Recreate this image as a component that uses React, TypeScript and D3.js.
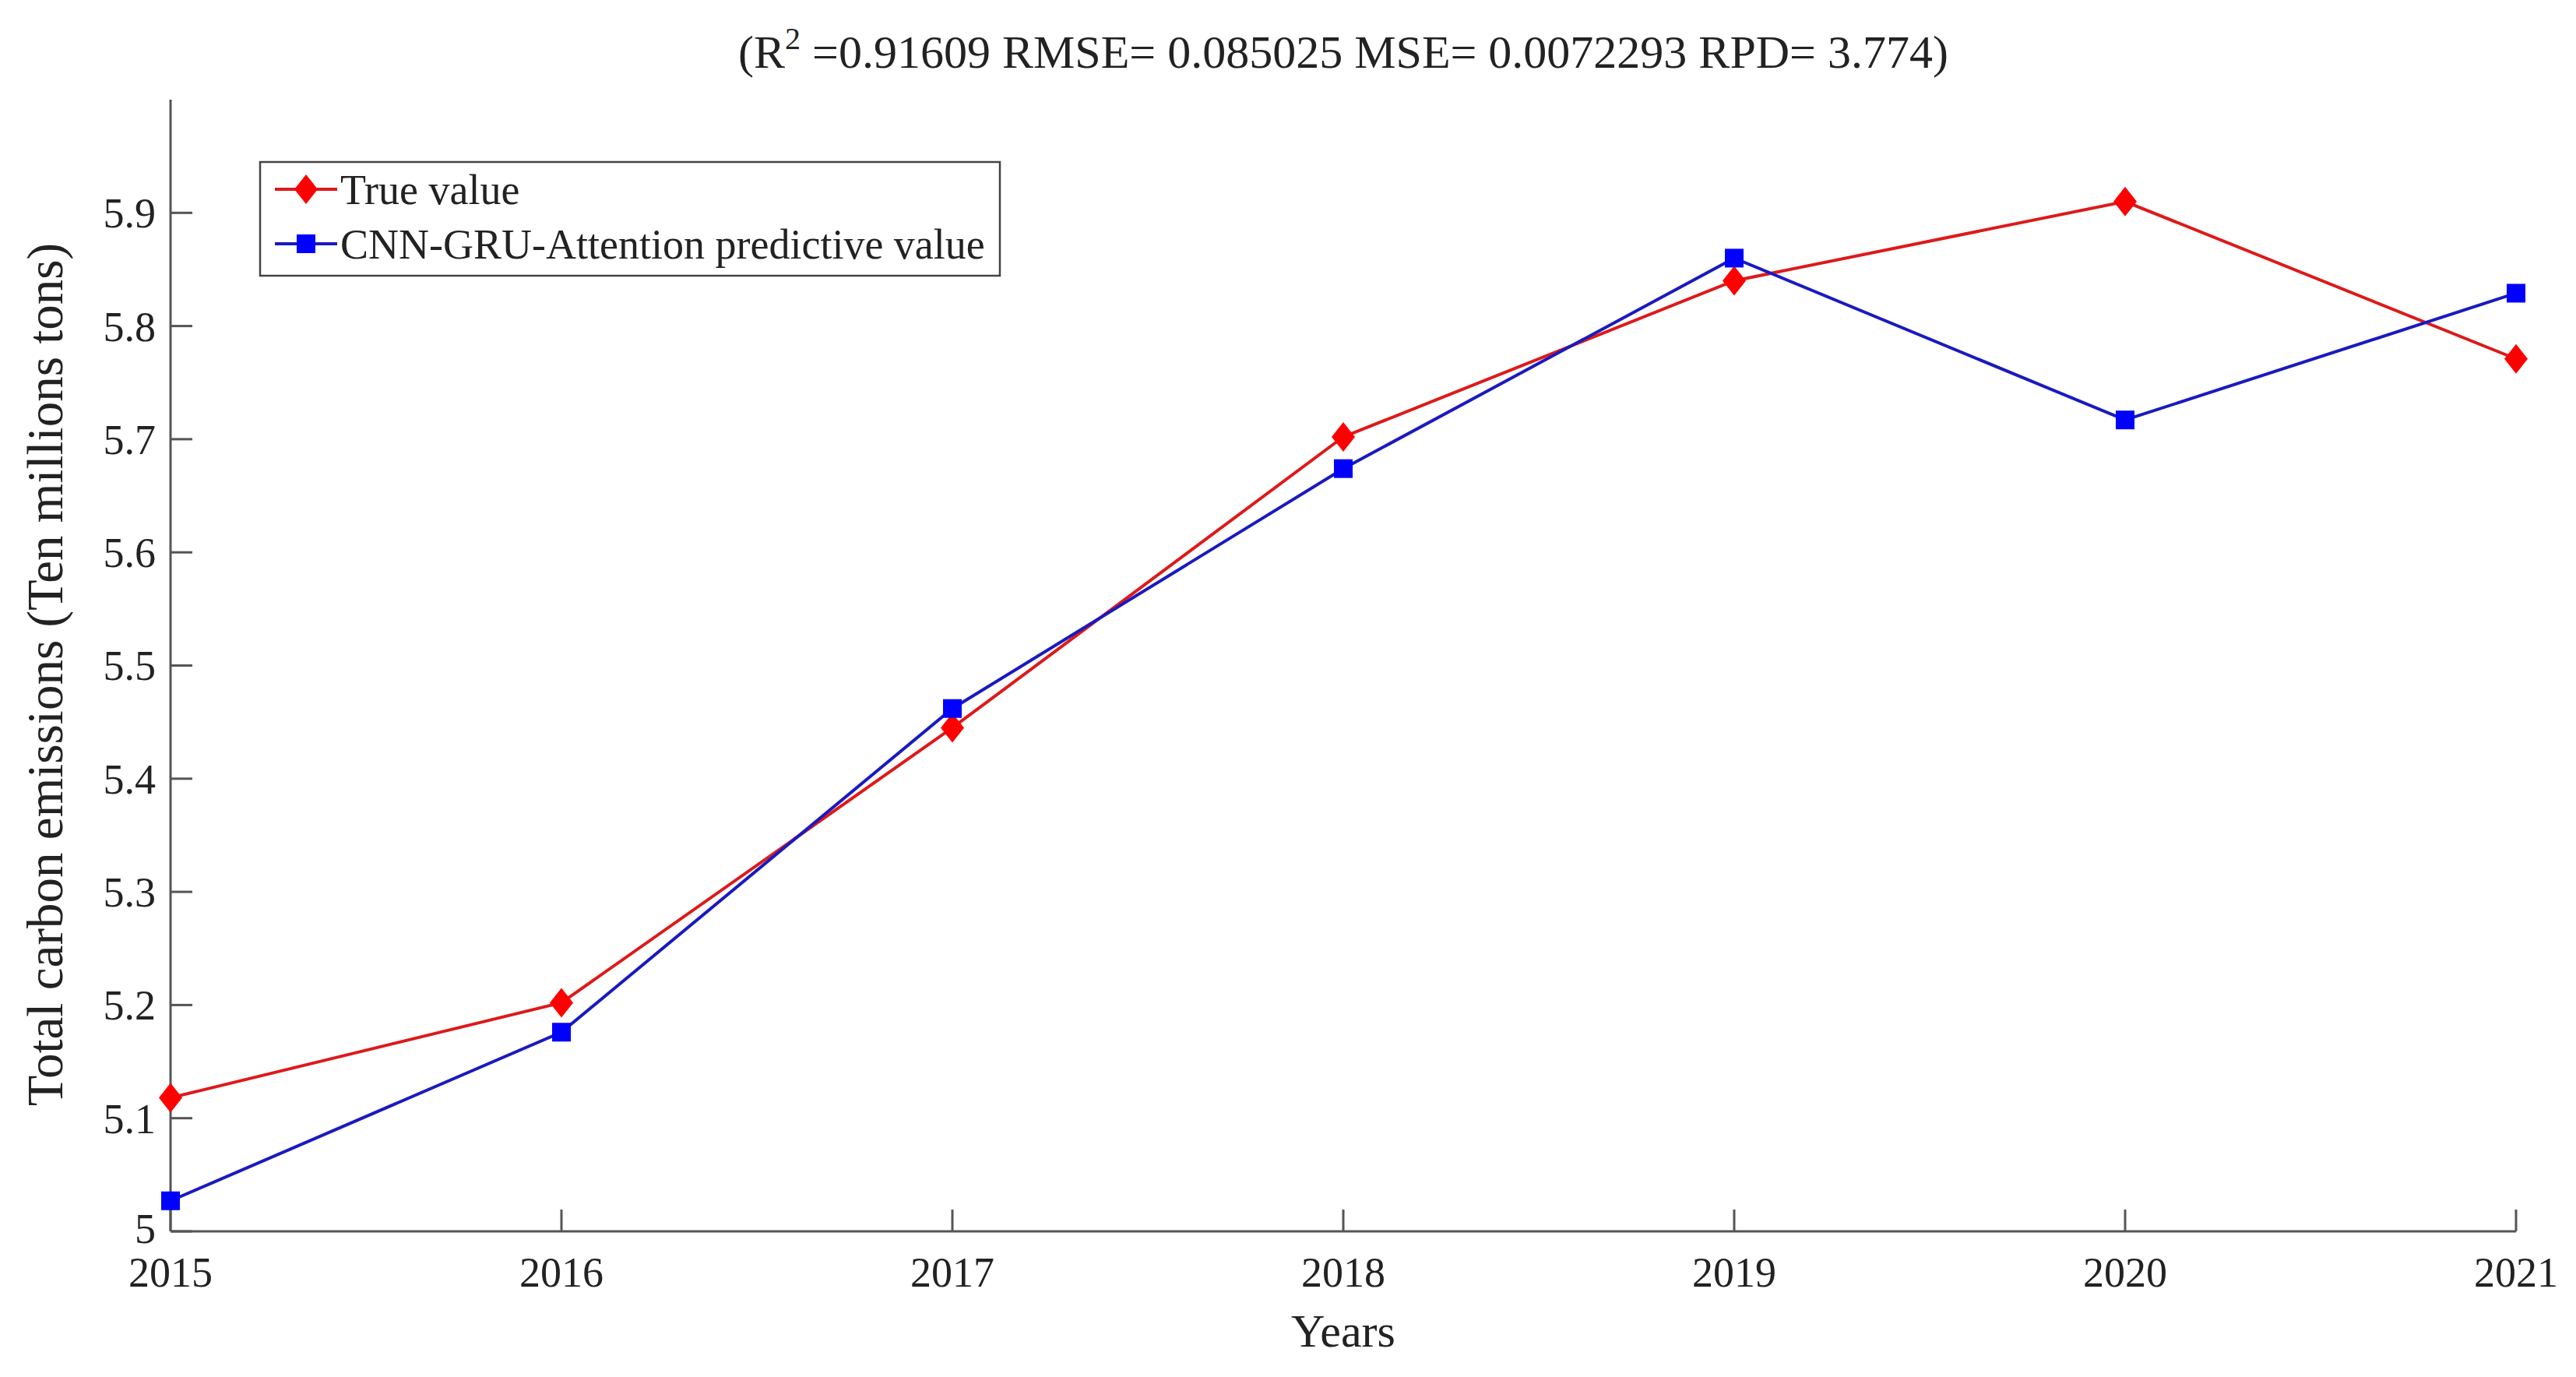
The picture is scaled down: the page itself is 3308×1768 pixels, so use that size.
import React from "react";
import * as d3 from "d3";

const years = [2015, 2016, 2017, 2018, 2019, 2020, 2021];
const trueValues = [5.118, 5.202, 5.445, 5.702, 5.84, 5.91, 5.771];
const predValues = [5.027, 5.176, 5.462, 5.674, 5.86, 5.717, 5.829];
const yTicks = [5.0, 5.1, 5.2, 5.3, 5.4, 5.5, 5.6, 5.7, 5.8, 5.9];
const seriesNames = ["True value", "CNN-GRU-Attention predictive value"];
const titleParts = { pre: "(R", sup: "2", post: " =0.91609 RMSE= 0.085025 MSE= 0.0072293 RPD= 3.774)" };
const xLabel = "Years";
const yLabel = "Total carbon emissions (Ten millions tons)";

const W = 3308;
const H = 1768;
const FONT = "'Liberation Serif', 'Times New Roman', serif";

export default function App() {
  const left = 219, right = 3231, top = 128, bottom = 1581;
  const x = d3.scaleLinear().domain([2015, 2021]).range([left, right]);
  const y = d3.scaleLinear().domain([5, 6]).range([bottom, top]);
  const line = d3
    .line<number>()
    .x((_, i) => x(years[i]))
    .y((d) => y(d));
  const axisColor = "#555";
  const textColor = "#222";
  const tickLen = 28;
  const redLine = "#dd1a1a";
  const blueLine = "#1a1ac0";
  const diamond = (cx: number, cy: number, w = 30, h = 38) =>
    `M${cx},${cy - h / 2}L${cx + w / 2},${cy}L${cx},${cy + h / 2}L${cx - w / 2},${cy}Z`;

  const legX = 334, legY = 208, legW = 950, legH = 146;
  const rowY = [243, 313];

  return (
    <svg
      width={W}
      height={H}
      style={{ position: "absolute", left: 0, top: 0, background: "#fff" }}
      fontFamily={FONT}
    >
      <rect x={0} y={0} width={W} height={H} fill="#fff" />
      {/* title */}
      <text x={(left + right) / 2} y={87} textAnchor="middle" fontSize={60} fill={textColor}>
        {titleParts.pre}
        <tspan dy={-24} fontSize={40}>{titleParts.sup}</tspan>
        <tspan dy={24}>{titleParts.post}</tspan>
      </text>

      {/* axes */}
      <line x1={left} y1={top} x2={left} y2={bottom} stroke={axisColor} strokeWidth={3} />
      <line x1={left} y1={bottom} x2={right} y2={bottom} stroke={axisColor} strokeWidth={3} />
      {yTicks.map((t) => (
        <g key={"y" + t}>
          <line x1={left} x2={left + tickLen} y1={y(t)} y2={y(t)} stroke={axisColor} strokeWidth={3} />
          <text
            x={left - 19}
            y={y(t) - (t === 5 ? 4 : 0)}
            dy="0.35em"
            textAnchor="end"
            fontSize={54}
            fill={textColor}
          >
            {d3.format("~g")(t)}
          </text>
        </g>
      ))}
      {years.map((yr) => (
        <g key={"x" + yr}>
          <line x1={x(yr)} x2={x(yr)} y1={bottom} y2={bottom - tickLen} stroke={axisColor} strokeWidth={3} />
          <text x={x(yr)} y={1652} textAnchor="middle" fontSize={54} fill={textColor}>
            {yr}
          </text>
        </g>
      ))}
      <text x={(left + right) / 2} y={1729} textAnchor="middle" fontSize={60} fill={textColor}>
        {xLabel}
      </text>
      <text
        transform={`translate(80, 866) rotate(-90)`}
        textAnchor="middle"
        fontSize={65}
        fill={textColor}
      >
        {yLabel}
      </text>

      {/* series */}
      <path d={line(trueValues) || ""} fill="none" stroke={redLine} strokeWidth={4} />
      <path d={line(predValues) || ""} fill="none" stroke={blueLine} strokeWidth={4} />
      {trueValues.map((v, i) => (
        <path key={"d" + i} d={diamond(x(years[i]), y(v))} fill="#ff0000" />
      ))}
      {predValues.map((v, i) => (
        <rect key={"s" + i} x={x(years[i]) - 12} y={y(v) - 12} width={24} height={24} fill="#0000ff" />
      ))}

      {/* legend */}
      <rect x={legX} y={legY} width={legW} height={legH} fill="#fff" stroke="#444" strokeWidth={2.5} />
      <line x1={353} x2={433} y1={rowY[0]} y2={rowY[0]} stroke={redLine} strokeWidth={4} />
      <path d={diamond(393, rowY[0])} fill="#ff0000" />
      <text x={437} y={rowY[0]} dy="0.35em" fontSize={54} fill={textColor}>
        {seriesNames[0]}
      </text>
      <line x1={353} x2={433} y1={rowY[1]} y2={rowY[1]} stroke={blueLine} strokeWidth={4} />
      <rect x={393 - 12} y={rowY[1] - 12} width={24} height={24} fill="#0000ff" />
      <text x={437} y={rowY[1]} dy="0.35em" fontSize={54} fill={textColor}>
        {seriesNames[1]}
      </text>
    </svg>
  );
}
